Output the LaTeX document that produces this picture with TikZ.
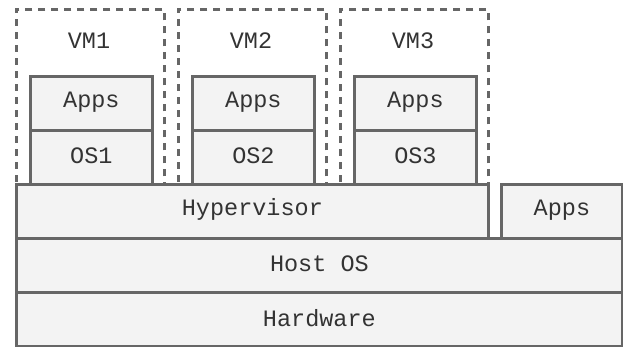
\documentclass[tikz,border=0pt]{standalone}
\usepackage{fontspec}
\setmonofont{Liberation Mono}
\definecolor{strokec}{HTML}{666666}
\definecolor{fillc}{HTML}{F3F3F3}
\definecolor{textc}{HTML}{333333}
\begin{document}
\begin{tikzpicture}[x=1pt,y=-1pt,
  box/.style={draw=strokec,fill=fillc,line width=2.8pt,anchor=north west,inner sep=0pt,
    font=\fontsize{23.5}{26}\ttfamily,text=textc,
    label={[font=\fontsize{23.5}{26}\ttfamily,text=textc,yshift=1.5pt]center:#1}},
  vmbox/.style={draw=strokec,dash pattern=on 7pt off 6pt,line width=2.8pt,anchor=north west,inner sep=0pt,
    minimum width=148pt,minimum height=175pt},
  vmlabel/.style={font=\fontsize{23.5}{26}\ttfamily,text=textc}]
\useasboundingbox (0,0) rectangle (623,346);
% VM dashed boxes
\node[vmbox] (vm1) at (15,8) {};
\node[vmbox] (vm2) at (177,8) {};
\node[vmbox] (vm3) at (339,8) {};
\node[vmlabel] (l1) at (89,41) {VM1};
\node[vmlabel] (l2) at (251,41) {VM2};
\node[vmlabel] (l3) at (413,41) {VM3};
% Apps / OS boxes
\node[box=Apps,minimum width=122pt,minimum height=54pt] (a1) at (29,75) {};
\node[box=OS1,minimum width=122pt,minimum height=54pt] (o1) at (29,129) {};
\node[box=Apps,minimum width=122pt,minimum height=54pt] (a2) at (191,75) {};
\node[box=OS2,minimum width=122pt,minimum height=54pt] (o2) at (191,129) {};
\node[box=Apps,minimum width=122pt,minimum height=54pt] (a3) at (353,75) {};
\node[box=OS3,minimum width=122pt,minimum height=54pt] (o3) at (353,129) {};
% bottom layers
\node[box=Hypervisor,minimum width=472pt,minimum height=54pt] (hv) at (15,183) {};
\node[box=Apps,minimum width=121pt,minimum height=54pt] (ha) at (500,183) {};
\node[box={Host OS},minimum width=606pt,minimum height=54pt] (host) at (15,237) {};
\node[box=Hardware,minimum width=606pt,minimum height=54pt] (hw) at (15,291) {};
\end{tikzpicture}
\end{document}
